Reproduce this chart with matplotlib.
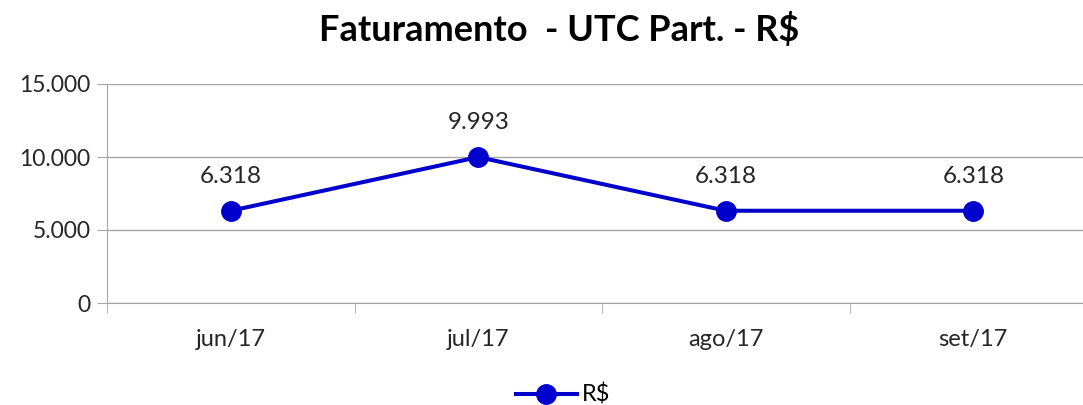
import matplotlib.pyplot as plt
from matplotlib.ticker import FuncFormatter

plt.rcParams['font.family'] = ['Lato', 'DejaVu Sans']

months = ["jun/17", "jul/17", "ago/17", "set/17"]
values = [6318, 9993, 6318, 6318]
series_name = "R$"
title = "Faturamento  - UTC Part. - R$"

BLUE = "#0000cc"
GRID = "#a6a6a6"
TXT = "#262626"


def br_thousands(v, _pos=None):
    return f"{v:,.0f}".replace(",", ".")


fig = plt.figure(figsize=(10.83, 4.05), dpi=100)
W, H = 1083, 405
ax = fig.add_axes([107 / W, 1 - 303 / H, 990 / W, (303 - 84) / H])

x = list(range(len(months)))
ax.plot(x, values, color=BLUE, linewidth=2.9, marker="o", markersize=14,
        label=series_name, zorder=3, clip_on=False)
for xi, v in zip(x, values):
    ax.annotate(br_thousands(v), (xi, v), xytext=(0, 17), textcoords="offset points",
                ha="center", va="bottom", fontsize=17.5, color=TXT)

ax.set_xlim(-0.5, len(months) - 0.5)
ax.set_ylim(0, 15000)
ax.set_yticks([0, 5000, 10000, 15000])
ax.yaxis.set_major_formatter(FuncFormatter(br_thousands))
ax.set_xticks(x)
ax.set_xticklabels(months)
ax.set_xticks([i + 0.5 for i in range(-1, len(months))], minor=True)
ax.tick_params(axis="x", which="major", length=0, pad=19, labelsize=17, labelcolor=TXT)
ax.tick_params(axis="x", which="minor", length=7, color=GRID, direction="out")
ax.tick_params(axis="y", length=7, color=GRID, labelsize=16.5, labelcolor=TXT, pad=5)
ax.grid(axis="y", color=GRID, linewidth=1.0, zorder=0)
for s in ["top", "right"]:
    ax.spines[s].set_visible(False)
ax.spines["left"].set_color(GRID)
ax.spines["bottom"].set_color(GRID)

fig.suptitle(title, x=559 / W, y=1 - 30 / H, va="center", fontsize=26, fontweight="bold")
fig.legend(loc="center", bbox_to_anchor=(563 / W, 1 - 395 / H), frameon=False,
           fontsize=17, handlelength=2.6, handletextpad=0.2)

fig.savefig("out.png", dpi=100)
